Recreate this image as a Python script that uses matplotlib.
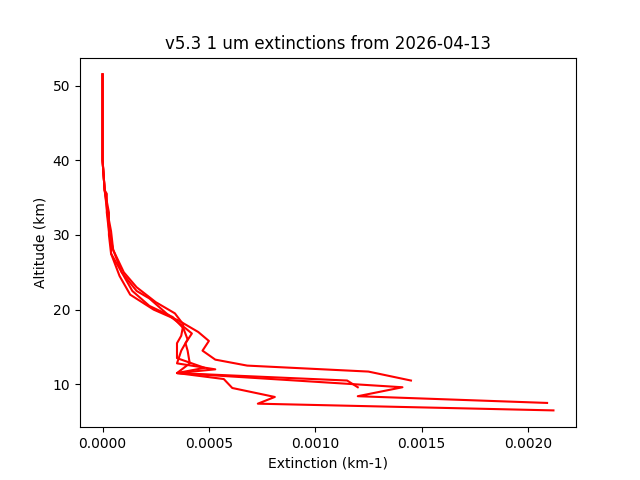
import matplotlib.pyplot as plt

# four extinction profiles (km-1) vs altitude (km)
alt_a = [51.5, 45, 40, 36, 35.5, 33, 30.5, 28, 25, 23, 21, 19.5, 18, 16.5, 15.5, 13.5, 12.2, 11.5, 10.7, 9.5, 8.3, 7.4, 6.5]
ext_a = [0.0, 0.0, 0.0, 0.00001, 0.00002, 0.00002, 0.00003, 0.00005, 0.0001, 0.00016, 0.00025, 0.00034, 0.00038, 0.00037, 0.00035, 0.00035, 0.00048, 0.00035, 0.00057, 0.00061, 0.00081, 0.00073, 0.00212]

alt_b = [51.5, 45, 40, 36, 34, 31, 28.5, 27.5, 25, 22.5, 20.5, 19, 17.5, 16, 14.5, 12.8, 12.0, 11.5, 9.6, 8.4, 7.5]
ext_b = [0.0, 0.0, 0.0, 0.00001, 0.00002, 0.00003, 0.00004, 0.00004, 0.00009, 0.00014, 0.00022, 0.00033, 0.00038, 0.00040, 0.00037, 0.00035, 0.00053, 0.00035, 0.00141, 0.00120, 0.00209]

alt_c = [51.5, 45, 40, 36, 33, 30, 27.5, 24.5, 22, 20, 18.5, 17, 15.8, 14.5, 13.3, 12.5, 11.7, 10.5]
ext_c = [0.0, 0.0, 0.0, 0.00001, 0.00003, 0.00003, 0.00004, 0.00008, 0.00013, 0.00024, 0.00036, 0.00045, 0.00050, 0.00047, 0.00053, 0.00068, 0.00125, 0.00145]

alt_d = [51.5, 45, 40, 36, 33.5, 30.5, 28, 25, 22.5, 21.5, 19.5, 17.5, 16.8, 15.5, 14.5, 12.8, 11.5, 10.5, 9.6]
ext_d = [0.0, 0.0, 0.0, 0.00001, 0.00002, 0.00004, 0.00005, 0.00009, 0.00016, 0.00022, 0.00030, 0.00039, 0.00042, 0.00039, 0.00040, 0.00041, 0.00035, 0.00115, 0.00120]

fig, ax = plt.subplots(figsize=(6.4, 4.8), dpi=100)
for ext, alt in [(ext_a, alt_a), (ext_b, alt_b), (ext_c, alt_c), (ext_d, alt_d)]:
    ax.plot(ext, alt, color='red')

ax.set_xlabel("Extinction (km-1)")
ax.set_ylabel("Altitude (km)")
ax.set_title("v5.3 1 um extinctions from 2026-04-13")
fig.savefig("out.png")
